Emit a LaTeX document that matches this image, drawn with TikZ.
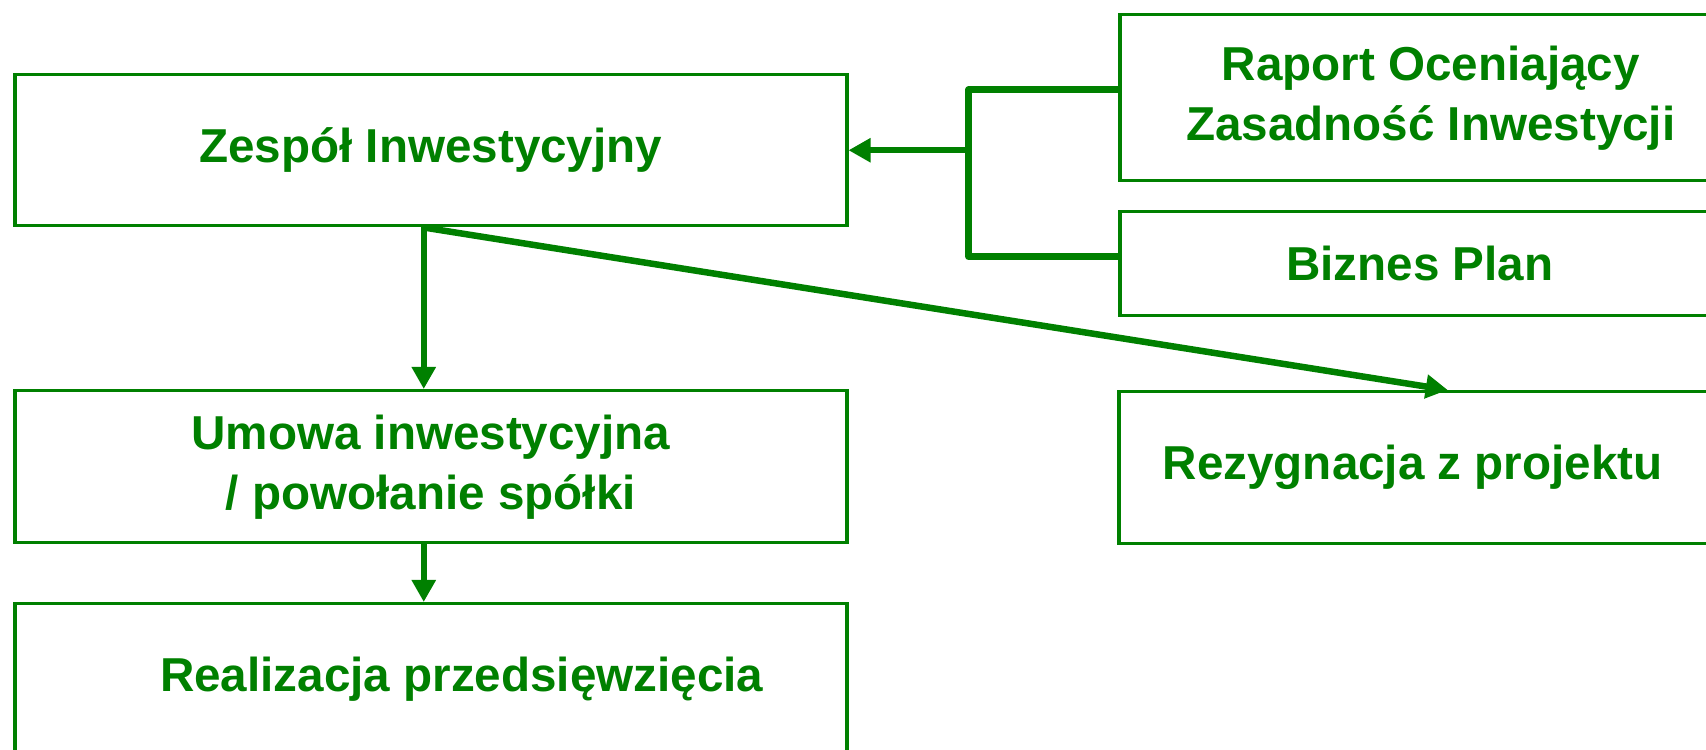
\documentclass[tikz,border=0pt]{standalone}
\usepackage{fontspec}
\setmainfont{Liberation Sans}
\usetikzlibrary{positioning,arrows.meta,calc}
\definecolor{leaf}{HTML}{008000}

\begin{document}
\begin{tikzpicture}[x=0.5pt,y=0.5pt,
    stagebox/.style={draw=leaf, line width=1.75pt, anchor=north west,
        minimum width=416pt, minimum height=75.5pt, inner sep=0pt,
        text=leaf, align=center,
        font=\fontsize{23.8pt}{30pt}\selectfont\bfseries},
    sidebox/.style={stagebox, minimum width=311pt},
    link/.style={draw=leaf, line width=3.25pt, line join=round},
    flow/.style={link, -{Triangle[length=11pt,width=11.5pt]}}]
    % Frame
    \useasboundingbox (0,0) rectangle (1706,749);
    \clip (0,0) rectangle (1706,749);

    % Left column
    \node[stagebox] (zespol) at (13,676) {Zespół Inwestycyjny};
    \node[stagebox, minimum height=76pt] (umowa) at (13,360) {Umowa inwestycyjna\\/ powołanie spółki};
    \node[stagebox] (realiz) at (13,147) {\hspace*{31pt}Realizacja przedsięwzięcia};

    % Right column
    \node[sidebox, minimum height=83pt] (raport) at (1118,736) {Raport Oceniający\\Zasadność Inwestycji};
    \node[sidebox, minimum height=52pt] (biznes) at (1118,539) {Biznes Plan\hspace*{11pt}};
    \node[sidebox, minimum height=76pt] (rezyg) at (1117,359) {Rezygnacja z projektu\hspace*{17pt}};

    % Bracket joining the two documents
    \coordinate (join) at ($(zespol.east)+(120,0)$);
    \draw[link] ([yshift=4pt]raport.west) -| (join) |- ([yshift=3.5pt]biznes.west);
    \draw[flow] (join) -- (zespol.east);

    % Decisions
    \coordinate (fork) at ([xshift=-3.5pt]zespol.south);
    \draw[flow] (fork) -- ([xshift=-3.5pt]umowa.north);
    \draw[flow] (fork) -- ([xshift=9pt]rezyg.north);
    \draw[flow] ([xshift=-3.5pt]umowa.south) -- ([xshift=-3.5pt]realiz.north);
\end{tikzpicture}
\end{document}
